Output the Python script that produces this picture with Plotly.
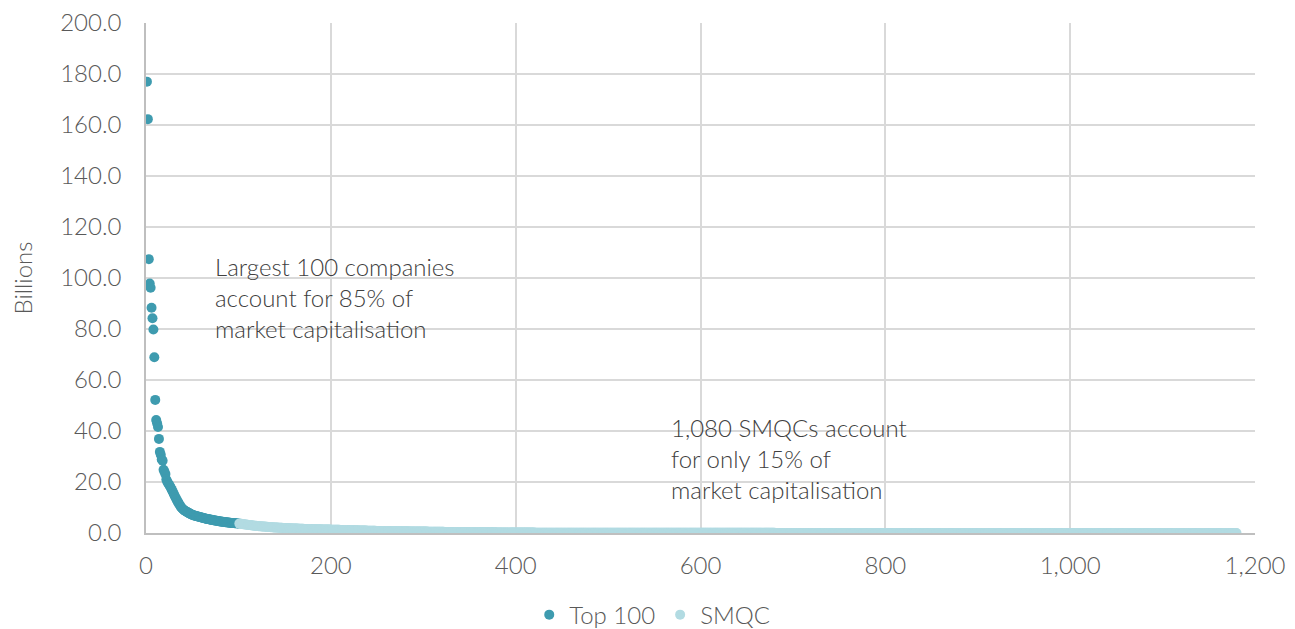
import plotly.graph_objects as go

# ---- data (values in billions, ranked by market capitalisation) ----
top100_values = [
    177.0, 162.3, 107.4, 97.8, 96.2, 88.3, 84.2, 79.8, 68.9, 52.2,
    44.3, 43.0, 41.6, 36.9, 31.8, 30.7, 28.8, 28.3, 24.8, 24.0,
    23.1, 21.0, 20.1, 19.5, 18.9, 18.3, 17.6, 16.9, 16.2, 15.4,
    14.6, 13.9, 13.2, 12.5, 11.9, 11.3, 10.7, 10.1, 9.7, 9.3,
    9.0, 8.7, 8.5, 8.3, 8.1, 7.9, 7.7, 7.5, 7.3, 7.2,
    7.0, 6.9, 6.8, 6.7, 6.6, 6.5, 6.4, 6.3, 6.2, 6.1,
    6.0, 5.9, 5.8, 5.7, 5.6, 5.5, 5.45, 5.4, 5.3, 5.2,
    5.15, 5.1, 5.0, 4.95, 4.9, 4.8, 4.75, 4.7, 4.6, 4.55,
    4.5, 4.45, 4.4, 4.35, 4.3, 4.25, 4.2, 4.15, 4.1, 4.05,
    4.0, 3.97, 3.94, 3.91, 3.88, 3.85, 3.82, 3.79, 3.76, 3.73,
]

smqc_values = [
    3.68, 3.63, 3.58, 3.53, 3.48, 3.43, 3.38, 3.33, 3.28, 3.23, 3.18, 3.13, 3.08, 3.03, 2.98, 2.93, 2.89, 2.85, 2.81, 2.77,
    2.73, 2.69, 2.65, 2.62, 2.59, 2.56, 2.53, 2.50, 2.47, 2.44, 2.41, 2.38, 2.35, 2.32, 2.29, 2.26, 2.23, 2.20, 2.18, 2.16,
    2.14, 2.12, 2.10, 2.08, 2.06, 2.04, 2.02, 2.00, 1.98, 1.96, 1.94, 1.92, 1.90, 1.88, 1.86, 1.84, 1.82, 1.80, 1.79, 1.78,
    1.76, 1.75, 1.73, 1.72, 1.70, 1.69, 1.67, 1.66, 1.64, 1.63, 1.61, 1.60, 1.59, 1.58, 1.57, 1.56, 1.55, 1.54, 1.53, 1.52,
    1.51, 1.50, 1.49, 1.48, 1.47, 1.46, 1.45, 1.44, 1.43, 1.42, 1.41, 1.40, 1.39, 1.38, 1.37, 1.36, 1.35, 1.34, 1.33, 1.32,
    1.31, 1.30, 1.29, 1.28, 1.27, 1.26, 1.25, 1.24, 1.23, 1.22, 1.21, 1.20, 1.19, 1.18, 1.17, 1.16, 1.15, 1.14, 1.13, 1.12,
    1.11, 1.10, 1.09, 1.08, 1.07, 1.06, 1.05, 1.04, 1.03, 1.02, 1.01, 1.00, 0.99, 0.98, 0.97, 0.96, 0.95, 0.94, 0.93, 0.92,
    0.91, 0.90, 0.89, 0.88, 0.87, 0.86, 0.85, 0.84, 0.83, 0.82, 0.81, 0.80, 0.79, 0.79, 0.78, 0.78, 0.77, 0.77, 0.76, 0.76,
    0.75, 0.75, 0.74, 0.74, 0.73, 0.73, 0.72, 0.72, 0.71, 0.71, 0.70, 0.70, 0.69, 0.69, 0.68, 0.68, 0.67, 0.67, 0.66, 0.66,
    0.65, 0.65, 0.64, 0.64, 0.63, 0.63, 0.62, 0.62, 0.61, 0.61, 0.60, 0.60, 0.59, 0.59, 0.58, 0.58, 0.57, 0.57, 0.56, 0.56,
    0.55, 0.55, 0.54, 0.54, 0.53, 0.53, 0.52, 0.52, 0.51, 0.51, 0.50, 0.50, 0.49, 0.49, 0.48, 0.48, 0.47, 0.47, 0.46, 0.46,
    0.45, 0.45, 0.44, 0.44, 0.43, 0.43, 0.42, 0.42, 0.41, 0.41, 0.40, 0.40, 0.40, 0.39, 0.39, 0.39, 0.38, 0.38, 0.38, 0.37,
    0.37, 0.37, 0.36, 0.36, 0.36, 0.35, 0.35, 0.35, 0.34, 0.34, 0.34, 0.33, 0.33, 0.33, 0.32, 0.32, 0.32, 0.31, 0.31, 0.31,
    0.30, 0.30, 0.30, 0.29, 0.29, 0.29, 0.28, 0.28, 0.28, 0.27, 0.27, 0.27, 0.26, 0.26, 0.26, 0.25, 0.25, 0.25, 0.24, 0.24,
    0.24, 0.23, 0.23, 0.23, 0.22, 0.22, 0.22, 0.22, 0.21, 0.21, 0.21, 0.21, 0.20, 0.20, 0.20, 0.20, 0.19, 0.19, 0.19, 0.19,
    0.18, 0.18, 0.18, 0.18, 0.18, 0.17, 0.17, 0.17, 0.17, 0.17, 0.16, 0.16, 0.16, 0.16, 0.16, 0.15, 0.15, 0.15, 0.15, 0.15,
    0.14, 0.14, 0.14, 0.14, 0.14, 0.14, 0.13, 0.13, 0.13, 0.13, 0.13, 0.13, 0.13, 0.12, 0.12, 0.12, 0.12, 0.12, 0.12, 0.12,
    0.12, 0.11, 0.11, 0.11, 0.11, 0.11, 0.11, 0.11, 0.11, 0.11, 0.11, 0.10, 0.10, 0.10, 0.10, 0.10, 0.10, 0.10, 0.10, 0.10,
    0.10, 0.10, 0.10, 0.10, 0.10, 0.10, 0.10, 0.10, 0.10, 0.10, 0.09, 0.09, 0.09, 0.09, 0.09, 0.09, 0.09, 0.09, 0.09, 0.09,
    0.09, 0.09, 0.09, 0.09, 0.09, 0.08, 0.08, 0.08, 0.08, 0.08, 0.08, 0.08, 0.08, 0.08, 0.08, 0.08, 0.08, 0.08, 0.08, 0.08,
    0.08, 0.08, 0.08, 0.08, 0.08, 0.08, 0.08, 0.08, 0.08, 0.08, 0.08, 0.08, 0.08, 0.08, 0.08, 0.08, 0.08, 0.08, 0.08, 0.08,
    0.07, 0.07, 0.07, 0.07, 0.07, 0.07, 0.07, 0.07, 0.07, 0.07, 0.07, 0.07, 0.07, 0.07, 0.07, 0.07, 0.07, 0.07, 0.07, 0.07,
    0.07, 0.07, 0.07, 0.07, 0.07, 0.07, 0.07, 0.07, 0.07, 0.07, 0.07, 0.07, 0.07, 0.07, 0.07, 0.06, 0.06, 0.06, 0.06, 0.06,
    0.06, 0.06, 0.06, 0.06, 0.06, 0.06, 0.06, 0.06, 0.06, 0.06, 0.06, 0.06, 0.06, 0.06, 0.06, 0.06, 0.06, 0.06, 0.06, 0.06,
    0.06, 0.06, 0.06, 0.06, 0.06, 0.06, 0.06, 0.06, 0.06, 0.06, 0.06, 0.06, 0.06, 0.06, 0.06, 0.06, 0.06, 0.06, 0.06, 0.06,
    0.06, 0.06, 0.06, 0.06, 0.06, 0.06, 0.06, 0.06, 0.06, 0.06, 0.06, 0.06, 0.06, 0.06, 0.06, 0.06, 0.06, 0.06, 0.06, 0.06,
    0.05, 0.05, 0.05, 0.05, 0.05, 0.05, 0.05, 0.05, 0.05, 0.05, 0.05, 0.05, 0.05, 0.05, 0.05, 0.05, 0.05, 0.05, 0.05, 0.05,
    0.05, 0.05, 0.05, 0.05, 0.05, 0.05, 0.05, 0.05, 0.05, 0.05, 0.05, 0.05, 0.05, 0.05, 0.05, 0.05, 0.05, 0.05, 0.05, 0.05,
    0.05, 0.05, 0.05, 0.05, 0.05, 0.05, 0.05, 0.05, 0.05, 0.05, 0.05, 0.05, 0.05, 0.05, 0.05, 0.05, 0.05, 0.05, 0.05, 0.05,
    0.04, 0.04, 0.04, 0.04, 0.04, 0.04, 0.04, 0.04, 0.04, 0.04, 0.04, 0.04, 0.04, 0.04, 0.04, 0.04, 0.04, 0.04, 0.04, 0.04,
    0.04, 0.04, 0.04, 0.04, 0.04, 0.04, 0.04, 0.04, 0.04, 0.04, 0.04, 0.04, 0.04, 0.04, 0.04, 0.04, 0.04, 0.04, 0.04, 0.04,
    0.04, 0.04, 0.04, 0.04, 0.04, 0.04, 0.04, 0.04, 0.04, 0.04, 0.04, 0.04, 0.04, 0.04, 0.04, 0.04, 0.04, 0.04, 0.04, 0.04,
    0.04, 0.04, 0.04, 0.04, 0.04, 0.04, 0.04, 0.04, 0.04, 0.04, 0.04, 0.04, 0.04, 0.04, 0.04, 0.04, 0.04, 0.04, 0.04, 0.04,
    0.03, 0.03, 0.03, 0.03, 0.03, 0.03, 0.03, 0.03, 0.03, 0.03, 0.03, 0.03, 0.03, 0.03, 0.03, 0.03, 0.03, 0.03, 0.03, 0.03,
    0.03, 0.03, 0.03, 0.03, 0.03, 0.03, 0.03, 0.03, 0.03, 0.03, 0.03, 0.03, 0.03, 0.03, 0.03, 0.03, 0.03, 0.03, 0.03, 0.03,
    0.03, 0.03, 0.03, 0.03, 0.03, 0.03, 0.03, 0.03, 0.03, 0.03, 0.03, 0.03, 0.03, 0.03, 0.03, 0.03, 0.03, 0.03, 0.03, 0.03,
    0.03, 0.03, 0.03, 0.03, 0.03, 0.03, 0.03, 0.03, 0.03, 0.03, 0.03, 0.03, 0.03, 0.03, 0.03, 0.03, 0.03, 0.03, 0.03, 0.03,
    0.03, 0.03, 0.03, 0.03, 0.03, 0.03, 0.03, 0.03, 0.03, 0.03, 0.03, 0.03, 0.03, 0.03, 0.03, 0.03, 0.03, 0.03, 0.03, 0.03,
    0.02, 0.02, 0.02, 0.02, 0.02, 0.02, 0.02, 0.02, 0.02, 0.02, 0.02, 0.02, 0.02, 0.02, 0.02, 0.02, 0.02, 0.02, 0.02, 0.02,
    0.02, 0.02, 0.02, 0.02, 0.02, 0.02, 0.02, 0.02, 0.02, 0.02, 0.02, 0.02, 0.02, 0.02, 0.02, 0.02, 0.02, 0.02, 0.02, 0.02,
    0.02, 0.02, 0.02, 0.02, 0.02, 0.02, 0.02, 0.02, 0.02, 0.02, 0.02, 0.02, 0.02, 0.02, 0.02, 0.02, 0.02, 0.02, 0.02, 0.02,
    0.02, 0.02, 0.02, 0.02, 0.02, 0.02, 0.02, 0.02, 0.02, 0.02, 0.02, 0.02, 0.02, 0.02, 0.02, 0.02, 0.02, 0.02, 0.02, 0.02,
    0.02, 0.02, 0.02, 0.02, 0.02, 0.02, 0.02, 0.02, 0.02, 0.02, 0.02, 0.02, 0.02, 0.02, 0.02, 0.02, 0.02, 0.02, 0.02, 0.02,
    0.02, 0.02, 0.02, 0.02, 0.02, 0.02, 0.02, 0.02, 0.02, 0.02, 0.02, 0.02, 0.02, 0.02, 0.02, 0.02, 0.02, 0.02, 0.02, 0.02,
    0.02, 0.02, 0.02, 0.02, 0.02, 0.02, 0.02, 0.02, 0.02, 0.02, 0.02, 0.02, 0.02, 0.02, 0.02, 0.02, 0.02, 0.02, 0.02, 0.02,
    0.01, 0.01, 0.01, 0.01, 0.01, 0.01, 0.01, 0.01, 0.01, 0.01, 0.01, 0.01, 0.01, 0.01, 0.01, 0.01, 0.01, 0.01, 0.01, 0.01,
    0.01, 0.01, 0.01, 0.01, 0.01, 0.01, 0.01, 0.01, 0.01, 0.01, 0.01, 0.01, 0.01, 0.01, 0.01, 0.01, 0.01, 0.01, 0.01, 0.01,
    0.01, 0.01, 0.01, 0.01, 0.01, 0.01, 0.01, 0.01, 0.01, 0.01, 0.01, 0.01, 0.01, 0.01, 0.01, 0.01, 0.01, 0.01, 0.01, 0.01,
    0.01, 0.01, 0.01, 0.01, 0.01, 0.01, 0.01, 0.01, 0.01, 0.01, 0.01, 0.01, 0.01, 0.01, 0.01, 0.01, 0.01, 0.01, 0.01, 0.01,
    0.01, 0.01, 0.01, 0.01, 0.01, 0.01, 0.01, 0.01, 0.01, 0.01, 0.01, 0.01, 0.01, 0.01, 0.01, 0.01, 0.01, 0.01, 0.01, 0.01,
    0.01, 0.01, 0.01, 0.01, 0.01, 0.01, 0.01, 0.01, 0.01, 0.01, 0.01, 0.01, 0.01, 0.01, 0.01, 0.01, 0.01, 0.01, 0.01, 0.01,
    0.005, 0.005, 0.005, 0.005, 0.005, 0.005, 0.005, 0.005, 0.005, 0.005, 0.005, 0.005, 0.005, 0.005, 0.005, 0.005, 0.005, 0.005, 0.005, 0.005,
    0.005, 0.005, 0.005, 0.005, 0.005, 0.005, 0.005, 0.005, 0.005, 0.005, 0.005, 0.005, 0.005, 0.005, 0.005, 0.005, 0.005, 0.005, 0.005, 0.005,
    0.005, 0.005, 0.005, 0.005, 0.005, 0.005, 0.005, 0.005, 0.005, 0.005, 0.005, 0.005, 0.005, 0.005, 0.005, 0.005, 0.005, 0.005, 0.005, 0.005,
]

series_names = ["Top 100", "SMQC"]
x_tick_values = [0, 200, 400, 600, 800, 1000, 1200]
y_tick_values = [0, 20, 40, 60, 80, 100, 120, 140, 160, 180, 200]
y_axis_title = "Billions"
note_top = "Largest 100 companies<br>account for 85% of<br>market capitalisation"
note_smqc = "1,080 SMQCs account<br>for only 15% of<br>market capitalisation"

# ranks (position in the ranking)
top100_ranks = list(range(1, len(top100_values) + 1))
smqc_ranks = list(range(len(top100_values) + 1, len(top100_values) + len(smqc_values) + 1))

DARK = "#3E9BAF"
LIGHT = "#B2DBE2"
FONT = "Lato"
TICK_COLOR = "#595959"
FS = 24

fig = go.Figure()
fig.add_trace(go.Scatter(
    x=top100_ranks, y=top100_values, mode="markers", name=series_names[0],
    marker=dict(color=DARK, size=10, line=dict(width=0)),
))
fig.add_trace(go.Scatter(
    x=smqc_ranks, y=smqc_values, mode="markers", name=series_names[1],
    marker=dict(color=LIGHT, size=10, line=dict(width=0)),
))

fig.add_annotation(x=72.5, y=92.2, xref="x", yref="y", text=note_top,
                   showarrow=False, xanchor="left", yanchor="middle", align="left",
                   font=dict(family=FONT, size=FS, color="#404040", weight=300))
fig.add_annotation(x=566, y=29.4, xref="x", yref="y", text=note_smqc,
                   showarrow=False, xanchor="left", yanchor="middle", align="left",
                   font=dict(family=FONT, size=FS, color="#404040", weight=300))

# the page body adds an 8 px offset, so the figure is 8 px smaller each way
fig.update_layout(
    width=1287, height=621,
    margin=dict(l=138, r=40, t=15, b=96, autoexpand=False),
    paper_bgcolor="white", plot_bgcolor="white",
    font=dict(family=FONT, size=FS, color=TICK_COLOR, weight=300),
    showlegend=True,
    legend=dict(orientation="h", xref="container", yref="container",
                x=0.405, xanchor="left", y=0.0225, yanchor="middle",
                font=dict(family=FONT, size=FS, color=TICK_COLOR, weight=300),
                itemwidth=30, tracegroupgap=0, bgcolor="rgba(0,0,0,0)"),
    xaxis=dict(range=[0, 1200], tickvals=x_tick_values, tickformat=",",
               showgrid=True, gridcolor="#D9D9D9", gridwidth=1.5,
               showline=True, linecolor="#BFBFBF", linewidth=1.5,
               zeroline=False, ticks="", ticklabelstandoff=10, automargin=False,
               ticklabeloverflow="allow",
               tickfont=dict(family=FONT, size=FS, color=TICK_COLOR, weight=300)),
    yaxis=dict(range=[0, 200], tickvals=y_tick_values, tickformat=".1f",
               showgrid=True, gridcolor="#D9D9D9", gridwidth=1.5,
               showline=True, linecolor="#BFBFBF", linewidth=1.5,
               zeroline=False, ticks="", ticklabelstandoff=18, automargin=False,
               ticklabeloverflow="allow",
               title=dict(text=y_axis_title, standoff=24,
                          font=dict(family=FONT, size=FS, color=TICK_COLOR, weight=300)),
               tickfont=dict(family=FONT, size=FS, color=TICK_COLOR, weight=300)),
)

fig.write_html("out.html")
